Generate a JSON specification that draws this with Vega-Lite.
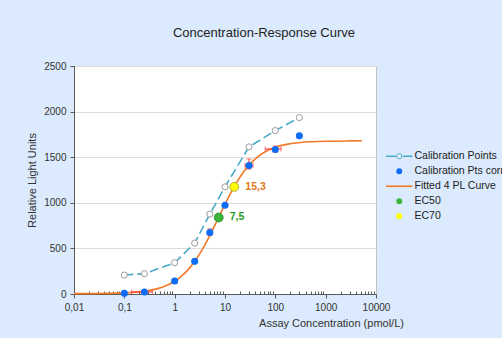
{
  "$schema": "https://vega.github.io/schema/vega-lite/v6.json",
  "width": 302,
  "height": 228,
  "autosize": {"type": "none"},
  "padding": {"left": 74, "top": 66, "right": 126, "bottom": 44},
  "background": "#dbeafc",
  "config": {
    "font": "Liberation Sans",
    "view": {"fill": "white", "stroke": "#c4c4c4"},
    "axis": {"labelFont": "Liberation Sans", "titleFont": "Liberation Sans", "labelColor": "#333333", "titleColor": "#333333", "titleFontWeight": "normal", "domainColor": "#5a5a5a", "tickColor": "#5a5a5a"}
  },
  "title": {"text": "Concentration-Response  Curve", "font": "Liberation Sans", "fontSize": 13, "fontWeight": "normal", "color": "#222222", "anchor": "middle", "frame": "group", "dx": 39, "offset": 21},
  "datasets": {
    "calib": [
      {"conc": 0.1, "rlu": 208},
      {"conc": 0.25, "rlu": 223},
      {"conc": 1, "rlu": 343},
      {"conc": 2.5, "rlu": 558},
      {"conc": 5, "rlu": 876},
      {"conc": 10, "rlu": 1175},
      {"conc": 30, "rlu": 1613},
      {"conc": 100, "rlu": 1792},
      {"conc": 300, "rlu": 1934}
    ],
    "corr": [
      {"conc": 0.1, "rlu": 7, "series": "Calibration Pts corrected"},
      {"conc": 0.25, "rlu": 22, "series": "Calibration Pts corrected"},
      {"conc": 1, "rlu": 142, "series": "Calibration Pts corrected"},
      {"conc": 2.5, "rlu": 358, "series": "Calibration Pts corrected"},
      {"conc": 5, "rlu": 675, "series": "Calibration Pts corrected"},
      {"conc": 10, "rlu": 974, "series": "Calibration Pts corrected"},
      {"conc": 30, "rlu": 1409, "series": "Calibration Pts corrected"},
      {"conc": 100, "rlu": 1584, "series": "Calibration Pts corrected"},
      {"conc": 300, "rlu": 1734, "series": "Calibration Pts corrected"}
    ],
    "fit": [
      {"conc": 0.01, "rlu": 3.6},
      {"conc": 0.0316, "rlu": 5.4},
      {"conc": 0.1, "rlu": 12.4},
      {"conc": 0.178, "rlu": 21.6},
      {"conc": 0.316, "rlu": 39.7},
      {"conc": 0.562, "rlu": 74.8},
      {"conc": 1, "rlu": 140.2},
      {"conc": 1.334, "rlu": 190.5},
      {"conc": 1.778, "rlu": 256.2},
      {"conc": 2.371, "rlu": 339.7},
      {"conc": 3.162, "rlu": 442.2},
      {"conc": 4.217, "rlu": 562.9},
      {"conc": 5.623, "rlu": 698.1},
      {"conc": 7.499, "rlu": 841.5},
      {"conc": 10, "rlu": 984.8},
      {"conc": 13.34, "rlu": 1120.1},
      {"conc": 17.78, "rlu": 1240.8},
      {"conc": 23.71, "rlu": 1343.3},
      {"conc": 31.62, "rlu": 1426.8},
      {"conc": 42.17, "rlu": 1492.5},
      {"conc": 56.23, "rlu": 1542.8},
      {"conc": 100, "rlu": 1608.3},
      {"conc": 177.8, "rlu": 1643.3},
      {"conc": 316.2, "rlu": 1661.4},
      {"conc": 1000, "rlu": 1675.3},
      {"conc": 3162, "rlu": 1678.8},
      {"conc": 5248, "rlu": 1679.6}
    ],
    "herr": [
      {"y": 22, "lo": 0.14, "hi": 0.36},
      {"y": 1409, "lo": 25, "hi": 36},
      {"y": 1590, "lo": 63, "hi": 130}
    ],
    "verr": [
      {"x": 5, "lo": 640, "hi": 714},
      {"x": 30, "lo": 1370, "hi": 1480},
      {"x": 100, "lo": 1555, "hi": 1622}
    ],
    "ec50": [{"conc": 7.5, "rlu": 839, "series": "EC50", "label": "7,5"}],
    "ec70": [{"conc": 15.3, "rlu": 1175, "series": "EC70", "label": "15,3"}]
  },
  "encoding": {
    "x": {
      "field": "conc", "type": "quantitative",
      "scale": {"type": "log", "domain": [0.01, 10000], "nice": false},
      "axis": {
        "title": "Assay Concentration (pmol/L)",
        "titleFontSize": 11, "titleX": 257, "titleAlign": "center", "titlePadding": 5,
        "labelFontSize": 10, "labelPadding": 4, "grid": false,
        "values": [0.01,0.02,0.03,0.04,0.05,0.06,0.07,0.08,0.09,0.1,0.2,0.3,0.4,0.5,0.6,0.7,0.8,0.9,1,2,3,4,5,6,7,8,9,10,20,30,40,50,60,70,80,90,100,200,300,400,500,600,700,800,900,1000,2000,3000,4000,5000,6000,7000,8000,9000,10000],
        "labelExpr": "abs(log(datum.value)/LN10 - round(log(datum.value)/LN10)) < 0.000001 ? replace(toString(datum.value), '.', ',') : ''",
        "tickSize": {"condition": {"test": "abs(log(datum.value)/LN10 - round(log(datum.value)/LN10)) < 0.000001", "value": 4}, "value": -3},
        "labelOverlap": false, "labelFlush": false
      }
    },
    "y": {
      "field": "rlu", "type": "quantitative",
      "scale": {"domain": [0, 2500], "nice": false},
      "axis": {
        "title": "Relative  Light Units", "titleFontSize": 11, "titlePadding": 6,
        "values": [0, 500, 1000, 1500, 2000, 2500], "format": "d",
        "labelFontSize": 10, "tickSize": 4, "labelPadding": 4,
        "gridColor": "#dcdcdc"
      }
    }
  },
  "layer": [
    {
      "data": {"name": "fit"},
      "mark": {"type": "line", "color": "#f07a28", "strokeWidth": 1.6, "interpolate": "monotone"}
    },
    {
      "data": {"name": "herr"},
      "mark": {"type": "errorbar", "ticks": true, "color": "#ff2a2a", "thickness": 1},
      "encoding": {
        "x": {"field": "lo", "type": "quantitative"},
        "x2": {"field": "hi"},
        "y": {"field": "y", "type": "quantitative"}
      }
    },
    {
      "data": {"name": "verr"},
      "mark": {"type": "errorbar", "ticks": true, "color": "#ff2a2a", "thickness": 1},
      "encoding": {
        "x": {"field": "x", "type": "quantitative"},
        "y": {"field": "lo", "type": "quantitative"},
        "y2": {"field": "hi"}
      }
    },
    {
      "data": {"name": "calib"},
      "mark": {"type": "line", "color": "#4aaac8", "strokeWidth": 1.6, "strokeDash": [9, 4]}
    },
    {
      "data": {"name": "calib"},
      "mark": {"type": "point", "shape": "circle", "filled": true, "fill": "white", "stroke": "#9a9a9a", "strokeWidth": 1, "size": 38, "opacity": 1}
    },
    {
      "data": {"name": "corr"},
      "mark": {"type": "point", "filled": true, "size": 50, "opacity": 1},
      "encoding": {
        "color": {
          "field": "series", "type": "nominal",
          "scale": {
            "domain": ["Calibration Points", "Calibration Pts corrected", "Fitted 4 PL Curve", "EC50", "EC70"],
            "range": ["#4aaac8", "#0f6cf5", "#f07a28", "#3cb43c", "#ffff00"]
          },
          "legend": {
            "title": null, "orient": "none", "legendX": 309, "legendY": 85,
            "labelFont": "Liberation Sans", "labelFontSize": 10.5, "labelColor": "#222222",
            "symbolSize": 36, "symbolOffset": 11, "labelOffset": 10, "rowPadding": 4, "padding": 0,
            "symbolStrokeWidth": 0, "symbolOpacity": 1
          }
        },
        "shape": {
          "field": "series", "type": "nominal",
          "scale": {
            "domain": ["Calibration Points", "Calibration Pts corrected", "Fitted 4 PL Curve", "EC50", "EC70"],
            "range": [
              "M-4.4,-0.27H-1.15V0.27H-4.4Z M1.15,-0.27H4.4V0.27H1.15Z M1,0A1,1,0,1,0,-1,0A1,1,0,1,0,1,0Z M0.72,0A0.72,0.72,0,1,1,-0.72,0A0.72,0.72,0,1,1,0.72,0Z",
              "circle",
              "M-4.4,-0.27H4.4V0.27H-4.4Z",
              "circle",
              "circle"
            ]
          },
          "legend": {
            "title": null, "orient": "none", "legendX": 309, "legendY": 85,
            "labelFont": "Liberation Sans", "labelFontSize": 10.5, "labelColor": "#222222",
            "symbolSize": 36, "symbolOffset": 11, "labelOffset": 10, "rowPadding": 4, "padding": 0,
            "symbolStrokeWidth": 0, "symbolOpacity": 1
          }
        }
      }
    },
    {
      "data": {"name": "ec50"},
      "mark": {"type": "point", "shape": "circle", "filled": true, "fill": "#3cb43c", "stroke": "#2a8a2a", "strokeWidth": 0.8, "size": 80, "opacity": 1}
    },
    {
      "data": {"name": "ec70"},
      "mark": {"type": "point", "shape": "circle", "filled": true, "fill": "#ffff00", "stroke": "#a09a30", "strokeWidth": 0.8, "size": 80, "opacity": 1}
    },
    {
      "data": {"name": "ec50"},
      "mark": {"type": "text", "align": "left", "dx": 11, "dy": 0, "baseline": "middle", "fontWeight": "bold", "fontSize": 10.5, "color": "#1f9a1f", "font": "Liberation Sans"},
      "encoding": {"text": {"field": "label"}}
    },
    {
      "data": {"name": "ec70"},
      "mark": {"type": "text", "align": "left", "dx": 11, "dy": 0, "baseline": "middle", "fontWeight": "bold", "fontSize": 10.5, "color": "#e07820", "font": "Liberation Sans"},
      "encoding": {"text": {"field": "label"}}
    }
  ]
}
